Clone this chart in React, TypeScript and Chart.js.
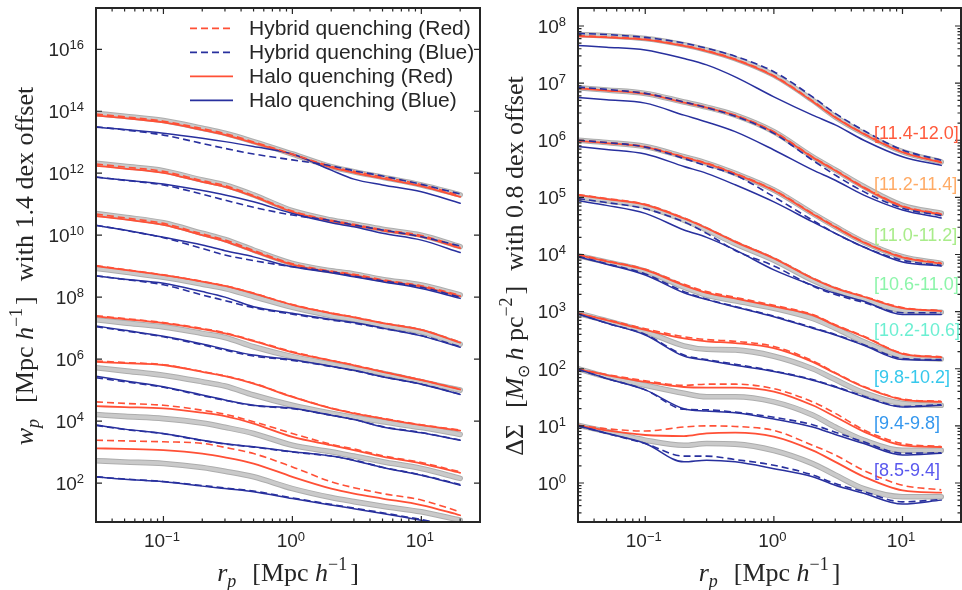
import React, { useEffect, useRef } from 'react';
import { Chart, registerables } from 'chart.js';

Chart.register(...registerables);

const RED = '#ff5036';
const BLUE = '#28309e';
const GREY_EDGE = '#adadad';
const GREY_FILL = '#cacaca';
const INK = '#262626';
const SANS = "'Liberation Sans', Arial, sans-serif";
const SERIF = "'Liberation Serif', 'Times New Roman', serif";

// projected separation r_p [Mpc/h]
const rp = [0.03, 0.05, 0.1, 0.2, 0.3, 0.5, 1, 2, 3, 5, 10, 20];

// ---- Left panel: log10 w_p (with 1.4 dex offsets), 8 stellar-mass bins, top to bottom ----
const wpGrey = [
  [13.93, 13.84, 13.70, 13.45, 13.29, 13.02, 12.62, 12.21, 12.05, 11.87, 11.62, 11.30],
  [12.32, 12.22, 12.08, 11.78, 11.62, 11.30, 10.79, 10.49, 10.36, 10.19, 10.00, 9.63],
  [10.70, 10.58, 10.40, 10.06, 9.86, 9.52, 9.09, 8.85, 8.75, 8.57, 8.39, 8.07],
  [8.93, 8.81, 8.64, 8.42, 8.28, 8.02, 7.67, 7.40, 7.28, 7.10, 6.88, 6.48],
  [7.27, 7.17, 7.04, 6.83, 6.70, 6.40, 6.08, 5.84, 5.70, 5.54, 5.27, 5.00],
  [5.72, 5.62, 5.48, 5.27, 5.13, 4.84, 4.51, 4.25, 4.12, 3.98, 3.79, 3.57],
  [4.21, 4.15, 4.08, 3.94, 3.80, 3.60, 3.22, 3.01, 2.87, 2.69, 2.47, 2.15],
  [2.72, 2.68, 2.63, 2.50, 2.38, 2.20, 1.82, 1.53, 1.40, 1.25, 1.07, 0.80],
];
const wpRedHalo = [
  [13.86, 13.78, 13.64, 13.40, 13.24, 12.98, 12.60, 12.19, 12.02, 11.83, 11.58, 11.24],
  [12.24, 12.15, 12.01, 11.72, 11.56, 11.25, 10.75, 10.45, 10.32, 10.15, 9.95, 9.58],
  [10.62, 10.51, 10.33, 10.00, 9.80, 9.47, 9.05, 8.81, 8.71, 8.53, 8.34, 8.03],
  [9.00, 8.88, 8.71, 8.50, 8.36, 8.12, 7.75, 7.48, 7.35, 7.16, 6.94, 6.53],
  [7.38, 7.29, 7.16, 6.97, 6.83, 6.58, 6.22, 5.95, 5.80, 5.59, 5.32, 5.02],
  [5.91, 5.87, 5.81, 5.59, 5.45, 5.21, 4.78, 4.41, 4.25, 4.08, 3.87, 3.69],
  [4.48, 4.45, 4.41, 4.27, 4.16, 3.92, 3.49, 3.22, 3.06, 2.85, 2.63, 2.33],
  [3.12, 3.10, 3.06, 2.95, 2.83, 2.63, 2.20, 1.82, 1.66, 1.50, 1.29, 0.96],
];
const wpRedHybrid = [
  [13.91, 13.82, 13.68, 13.44, 13.28, 13.01, 12.62, 12.22, 12.06, 11.88, 11.63, 11.28],
  [12.30, 12.20, 12.06, 11.76, 11.60, 11.28, 10.78, 10.48, 10.35, 10.18, 9.99, 9.62],
  [10.68, 10.56, 10.38, 10.04, 9.85, 9.51, 9.08, 8.84, 8.74, 8.56, 8.37, 8.06],
  [9.02, 8.89, 8.72, 8.51, 8.37, 8.13, 7.76, 7.49, 7.36, 7.17, 6.95, 6.55],
  [7.40, 7.31, 7.18, 6.99, 6.85, 6.60, 6.24, 5.96, 5.81, 5.60, 5.33, 5.03],
  [5.94, 5.89, 5.82, 5.60, 5.46, 5.22, 4.79, 4.42, 4.26, 4.09, 3.88, 3.71],
  [4.62, 4.57, 4.51, 4.35, 4.22, 3.98, 3.60, 3.25, 3.10, 2.88, 2.66, 2.36],
  [3.38, 3.36, 3.33, 3.28, 3.15, 2.95, 2.52, 2.04, 1.85, 1.66, 1.45, 1.07],
];
const wpBlueHalo = [
  [13.48, 13.41, 13.29, 13.13, 13.02, 12.86, 12.62, 12.10, 11.81, 11.62, 11.40, 11.03],
  [11.87, 11.78, 11.65, 11.44, 11.30, 11.08, 10.70, 10.40, 10.27, 10.06, 9.84, 9.44],
  [10.31, 10.17, 9.93, 9.68, 9.50, 9.30, 8.98, 8.79, 8.66, 8.50, 8.28, 7.96],
  [8.68, 8.58, 8.45, 8.18, 8.00, 7.69, 7.48, 7.28, 7.18, 7.00, 6.75, 6.38],
  [7.07, 6.93, 6.74, 6.49, 6.32, 6.13, 5.98, 5.77, 5.64, 5.43, 5.19, 4.86],
  [5.45, 5.30, 5.11, 4.84, 4.68, 4.51, 4.41, 4.19, 4.05, 3.81, 3.62, 3.38],
  [3.87, 3.74, 3.60, 3.38, 3.27, 3.17, 3.01, 2.87, 2.73, 2.50, 2.25, 1.93],
  [2.20, 2.12, 2.04, 1.90, 1.82, 1.72, 1.50, 1.29, 1.17, 1.02, 0.80, 0.55],
];
const wpBlueHybrid = [
  [13.50, 13.40, 13.23, 12.96, 12.80, 12.62, 12.43, 12.24, 12.08, 11.91, 11.64, 11.33],
  [11.88, 11.77, 11.62, 11.32, 11.13, 10.90, 10.65, 10.47, 10.33, 10.17, 9.95, 9.65],
  [10.32, 10.16, 9.92, 9.57, 9.36, 9.18, 8.98, 8.82, 8.68, 8.53, 8.32, 8.00],
  [8.69, 8.57, 8.40, 8.07, 7.89, 7.66, 7.45, 7.26, 7.16, 6.99, 6.76, 6.40],
  [7.05, 6.91, 6.72, 6.46, 6.29, 6.10, 5.96, 5.76, 5.63, 5.43, 5.19, 4.87],
  [5.40, 5.27, 5.09, 4.82, 4.67, 4.50, 4.40, 4.19, 4.05, 3.82, 3.63, 3.39],
  [3.86, 3.73, 3.59, 3.37, 3.26, 3.16, 3.00, 2.87, 2.74, 2.51, 2.26, 1.95],
  [2.20, 2.13, 2.05, 1.92, 1.84, 1.74, 1.52, 1.31, 1.19, 1.04, 0.82, 0.57],
];

// ---- Right panel: log10 DeltaSigma (with 0.8 dex offsets) ----
const dsGrey = [
  [7.85, 7.83, 7.78, 7.67, 7.58, 7.43, 7.14, 6.70, 6.41, 6.12, 5.80, 5.62],
  [6.92, 6.88, 6.82, 6.67, 6.58, 6.44, 6.15, 5.71, 5.48, 5.19, 4.86, 4.72],
  [6.00, 5.96, 5.89, 5.71, 5.60, 5.42, 5.13, 4.72, 4.49, 4.22, 3.96, 3.84],
  [5.01, 4.94, 4.84, 4.60, 4.43, 4.19, 3.90, 3.55, 3.38, 3.22, 3.02, 2.99],
  [3.98, 3.87, 3.71, 3.43, 3.29, 3.19, 3.06, 2.88, 2.71, 2.47, 2.22, 2.17],
  [2.97, 2.84, 2.65, 2.40, 2.34, 2.33, 2.22, 2.00, 1.81, 1.58, 1.39, 1.36],
  [2.00, 1.86, 1.71, 1.57, 1.51, 1.51, 1.42, 1.19, 0.98, 0.75, 0.57, 0.57],
  [1.01, 0.90, 0.75, 0.66, 0.69, 0.68, 0.57, 0.34, 0.14, -0.10, -0.24, -0.24],
];
const dsRedHalo = [
  [7.82, 7.80, 7.76, 7.65, 7.56, 7.41, 7.12, 6.68, 6.40, 6.11, 5.79, 5.61],
  [6.91, 6.87, 6.81, 6.66, 6.57, 6.43, 6.14, 5.70, 5.47, 5.17, 4.84, 4.70],
  [5.99, 5.95, 5.88, 5.70, 5.59, 5.41, 5.12, 4.71, 4.48, 4.21, 3.95, 3.84],
  [5.04, 4.97, 4.87, 4.63, 4.46, 4.22, 3.93, 3.58, 3.41, 3.26, 3.06, 3.01],
  [3.99, 3.88, 3.73, 3.46, 3.33, 3.23, 3.09, 2.94, 2.76, 2.56, 2.26, 2.20],
  [2.97, 2.85, 2.68, 2.53, 2.48, 2.45, 2.36, 2.12, 1.92, 1.68, 1.46, 1.42],
  [1.99, 1.89, 1.77, 1.68, 1.67, 1.67, 1.60, 1.36, 1.16, 0.90, 0.66, 0.63],
  [1.01, 0.92, 0.84, 0.82, 0.87, 0.88, 0.81, 0.57, 0.37, 0.11, -0.13, -0.17],
];
const dsRedHybrid = [
  [7.83, 7.81, 7.77, 7.66, 7.57, 7.42, 7.13, 6.69, 6.41, 6.12, 5.80, 5.62],
  [6.92, 6.88, 6.82, 6.67, 6.58, 6.44, 6.15, 5.71, 5.48, 5.18, 4.85, 4.71],
  [6.00, 5.96, 5.89, 5.71, 5.60, 5.42, 5.13, 4.72, 4.49, 4.22, 3.96, 3.85],
  [5.05, 4.98, 4.88, 4.64, 4.47, 4.23, 3.94, 3.59, 3.42, 3.27, 3.07, 3.02],
  [4.00, 3.89, 3.74, 3.48, 3.35, 3.25, 3.11, 2.95, 2.77, 2.57, 2.27, 2.21],
  [2.97, 2.86, 2.70, 2.56, 2.51, 2.48, 2.39, 2.14, 1.93, 1.69, 1.47, 1.43],
  [1.99, 1.90, 1.79, 1.71, 1.73, 1.73, 1.65, 1.42, 1.22, 0.93, 0.69, 0.64],
  [1.01, 0.95, 0.91, 0.98, 1.00, 0.99, 0.92, 0.66, 0.49, 0.22, -0.04, -0.12],
];
const dsBlueHalo = [
  [7.66, 7.63, 7.58, 7.43, 7.32, 7.11, 6.76, 6.44, 6.27, 6.00, 5.71, 5.56],
  [6.75, 6.71, 6.65, 6.44, 6.32, 6.15, 5.83, 5.48, 5.30, 5.04, 4.78, 4.64],
  [5.89, 5.84, 5.76, 5.54, 5.42, 5.22, 4.92, 4.57, 4.37, 4.13, 3.87, 3.80],
  [4.94, 4.86, 4.72, 4.43, 4.30, 4.08, 3.73, 3.46, 3.32, 3.18, 2.95, 2.95],
  [3.96, 3.83, 3.64, 3.33, 3.21, 3.08, 2.91, 2.71, 2.59, 2.41, 2.16, 2.15],
  [2.96, 2.80, 2.59, 2.22, 2.15, 2.06, 1.95, 1.80, 1.68, 1.51, 1.33, 1.36],
  [1.99, 1.83, 1.63, 1.30, 1.26, 1.23, 1.12, 0.98, 0.85, 0.69, 0.49, 0.52],
  [1.00, 0.87, 0.69, 0.37, 0.40, 0.37, 0.25, 0.11, -0.04, -0.18, -0.37, -0.30],
];
const dsBlueHybrid = [
  [7.87, 7.85, 7.80, 7.70, 7.61, 7.47, 7.20, 6.76, 6.47, 6.17, 5.83, 5.65],
  [6.93, 6.89, 6.82, 6.67, 6.57, 6.42, 6.12, 5.65, 5.39, 5.10, 4.81, 4.68],
  [6.00, 5.96, 5.88, 5.68, 5.55, 5.39, 5.01, 4.60, 4.37, 4.13, 3.90, 3.81],
  [4.98, 4.91, 4.80, 4.57, 4.37, 4.07, 3.80, 3.45, 3.30, 3.16, 2.98, 2.98],
  [3.97, 3.84, 3.66, 3.35, 3.22, 3.09, 2.92, 2.72, 2.60, 2.42, 2.18, 2.16],
  [2.96, 2.80, 2.60, 2.24, 2.16, 2.08, 1.96, 1.81, 1.69, 1.52, 1.34, 1.37],
  [1.99, 1.83, 1.63, 1.29, 1.28, 1.24, 1.15, 1.02, 0.89, 0.72, 0.52, 0.53],
  [1.00, 0.87, 0.69, 0.47, 0.47, 0.41, 0.31, 0.14, -0.01, -0.15, -0.33, -0.29],
];

// stellar-mass bin annotations (right panel)
const binLabels = ['[11.4-12.0]', '[11.2-11.4]', '[11.0-11.2]', '[10.6-11.0]', '[10.2-10.6]', '[9.8-10.2]', '[9.4-9.8]', '[8.5-9.4]'];
const binLabelColors = ['#ff5a3c', '#ffab66', '#a9ec8a', '#8cf5aa', '#6cefd2', '#36c8ec', '#3497ee', '#5a58ee'];
const binLabelX = 6.0;
const binLabelYLog = [6.13, 5.23, 4.34, 3.49, 2.68, 1.85, 1.05, 0.22];

// axis ranges and ticks
const xRange = [0.03, 28.5];
const xMajor = [0.1, 1, 10];
const xMajorExp = ['\u22121', '0', '1'];
const wpRangeLog = [0.742, 17.333];
const wpTickExp = [2, 4, 6, 8, 10, 12, 14, 16];
const dsRangeLog = [-0.683, 8.315];
const dsTickExp = [0, 1, 2, 3, 4, 5, 6, 7, 8];

const legendItems = [
  { label: 'Hybrid quenching (Red)', color: RED, dash: [7, 4] },
  { label: 'Hybrid quenching (Blue)', color: BLUE, dash: [7, 4] },
  { label: 'Halo quenching (Red)', color: RED, dash: [] },
  { label: 'Halo quenching (Blue)', color: BLUE, dash: [] },
];

type Seg = { t: string; f: string; dy?: number; gap?: number };

function richWidth(ctx: CanvasRenderingContext2D, segs: Seg[]) {
  let w = 0;
  for (const s of segs) {
    ctx.font = s.f;
    w += (s.gap || 0) + ctx.measureText(s.t).width;
  }
  return w;
}

function drawRich(ctx: CanvasRenderingContext2D, segs: Seg[], x: number, y: number, rot: number, align: 'center' | 'right') {
  ctx.save();
  ctx.translate(x, y);
  ctx.rotate(rot);
  const w = richWidth(ctx, segs);
  let cx = align === 'center' ? -w / 2 : -w;
  ctx.textAlign = 'left';
  ctx.textBaseline = 'alphabetic';
  ctx.fillStyle = INK;
  for (const s of segs) {
    cx += s.gap || 0;
    ctx.font = s.f;
    ctx.fillText(s.t, cx, s.dy || 0);
    cx += ctx.measureText(s.t).width;
  }
  ctx.restore();
}

const T = (size: number, italic = false) => `${italic ? 'italic ' : ''}${size}px ${SERIF}`;

const xTitle: Seg[] = [
  { t: 'r', f: T(26, true) },
  { t: 'p', f: T(18, true), dy: 6 },
  { t: '[Mpc ', f: T(26), gap: 16 },
  { t: 'h', f: T(26, true) },
  { t: '\u22121', f: T(18), dy: -11 },
  { t: ']', f: T(26), gap: 3 },
];
const wpTitle: Seg[] = [
  { t: 'w', f: T(26, true) },
  { t: 'p', f: T(18, true), dy: 6 },
  { t: '[Mpc ', f: T(26), gap: 16 },
  { t: 'h', f: T(26, true) },
  { t: '\u22121', f: T(18), dy: -11 },
  { t: ']', f: T(26), gap: 3 },
  { t: 'with 1.4 dex offset', f: T(26), gap: 15 },
];
const dsTitle: Seg[] = [
  { t: '\u0394\u03a3', f: T(26) },
  { t: '[', f: T(26), gap: 16 },
  { t: 'M', f: T(26, true) },
  { t: '\u2299', f: T(16), dy: 6 },
  { t: 'h', f: T(26, true), gap: 4 },
  { t: ' pc', f: T(26) },
  { t: '\u22122', f: T(18), dy: -11 },
  { t: ']', f: T(26), gap: 3 },
  { t: 'with 0.8 dex offset', f: T(26), gap: 15 },
];

const pts = (logs: number[]) => rp.map((x, i) => ({ x, y: Math.pow(10, logs[i]) }));

function buildDatasets(grey: number[][], redHalo: number[][], blueHalo: number[][], redHyb: number[][], blueHyb: number[][]) {
  const ds: any[] = [];
  const mk = (logs: number[], color: string, width: number, dash: number[] = []) => ({
    data: pts(logs),
    borderColor: color,
    borderWidth: width,
    borderDash: dash,
    pointRadius: 0,
    fill: false,
    cubicInterpolationMode: 'monotone',
    borderCapStyle: dash.length ? 'butt' : 'round',
  });
  // bottom-to-top drawing order
  grey.forEach((g) => ds.push(mk(g, GREY_EDGE, 5.6)));
  grey.forEach((g) => ds.push(mk(g, GREY_FILL, 3.6)));
  redHalo.forEach((g) => ds.push(mk(g, RED, 1.8)));
  blueHalo.forEach((g) => ds.push(mk(g, BLUE, 1.5)));
  redHyb.forEach((g) => ds.push(mk(g, RED, 1.6, [7, 4])));
  blueHyb.forEach((g) => ds.push(mk(g, BLUE, 1.6, [7, 4])));
  // Chart.js paints dataset 0 last (on top), so reverse
  return ds.reverse();
}

type PanelCfg = {
  tickExp: number[];
  minorY: boolean;
  yLabelGap: number;
  yTitle: Seg[];
  yTitleX: number;
  legend: boolean;
  labels: boolean;
};

function makeDecor(cfg: PanelCfg) {
  return {
    id: 'decor',
    afterDraw(chart: any) {
      const ctx: CanvasRenderingContext2D = chart.ctx;
      const a = chart.chartArea;
      const xs = chart.scales.x;
      const ys = chart.scales.y;
      ctx.save();
      ctx.strokeStyle = INK;
      ctx.lineWidth = 1.2;
      const vtick = (v: number, len: number) => {
        const px = xs.getPixelForValue(v);
        if (px < a.left + 1 || px > a.right - 1) return;
        ctx.beginPath();
        ctx.moveTo(px, a.bottom);
        ctx.lineTo(px, a.bottom - len);
        ctx.moveTo(px, a.top);
        ctx.lineTo(px, a.top + len);
        ctx.stroke();
      };
      const htick = (v: number, len: number) => {
        const py = ys.getPixelForValue(v);
        if (py < a.top + 1 || py > a.bottom - 1) return;
        ctx.beginPath();
        ctx.moveTo(a.left, py);
        ctx.lineTo(a.left + len, py);
        ctx.moveTo(a.right, py);
        ctx.lineTo(a.right - len, py);
        ctx.stroke();
      };
      for (const d of [0.01, 0.1, 1, 10]) {
        for (let k = 2; k <= 9; k++) vtick(k * d, 3.5);
      }
      xMajor.forEach((v) => vtick(v, 6));
      cfg.tickExp.forEach((e) => htick(Math.pow(10, e), 6));
      if (cfg.minorY) {
        for (let e = -1; e <= 8; e++) {
          for (let k = 2; k <= 9; k++) htick(k * Math.pow(10, e), 3.5);
        }
      }
      ctx.lineWidth = 2;
      ctx.strokeRect(a.left, a.top, a.right - a.left, a.bottom - a.top);

      // x tick labels
      xMajor.forEach((v, i) => {
        const px = xs.getPixelForValue(v);
        drawRich(ctx, [
          { t: '10', f: `19px ${SANS}` },
          { t: xMajorExp[i], f: `13px ${SANS}`, dy: -6.5 },
        ], px - 1.5, 547, 0, 'center');
      });
      // y tick labels
      cfg.tickExp.forEach((e) => {
        const py = ys.getPixelForValue(Math.pow(10, e));
        drawRich(ctx, [
          { t: '10', f: `19px ${SANS}` },
          { t: String(e), f: `13px ${SANS}`, dy: -7 },
        ], a.left - cfg.yLabelGap, py + 6.8, 0, 'right');
      });
      // axis titles
      drawRich(ctx, xTitle, (a.left + a.right) / 2, 581, 0, 'center');
      drawRich(ctx, cfg.yTitle, cfg.yTitleX, (a.top + a.bottom) / 2 + 1, -Math.PI / 2, 'center');

      if (cfg.legend) {
        legendItems.forEach((it, i) => {
          const y = 28.3 + i * 24;
          ctx.beginPath();
          ctx.setLineDash(it.dash);
          ctx.strokeStyle = it.color;
          ctx.lineWidth = 1.7;
          ctx.moveTo(190, y);
          ctx.lineTo(233, y);
          ctx.stroke();
          ctx.setLineDash([]);
          ctx.fillStyle = INK;
          ctx.font = `21px ${SANS}`;
          ctx.textAlign = 'left';
          ctx.textBaseline = 'middle';
          ctx.fillText(it.label, 249, y + 1);
        });
      }
      if (cfg.labels) {
        ctx.font = `18px ${SANS}`;
        ctx.textAlign = 'left';
        ctx.textBaseline = 'middle';
        binLabels.forEach((lab, i) => {
          ctx.fillStyle = binLabelColors[i];
          ctx.fillText(lab, xs.getPixelForValue(binLabelX), ys.getPixelForValue(Math.pow(10, binLabelYLog[i])) + 1);
        });
      }
      ctx.restore();
    },
  };
}

function makeChart(canvas: HTMLCanvasElement, datasets: any[], yLog: number[], pad: { left: number; right: number }, cfg: PanelCfg) {
  return new Chart(canvas, {
    type: 'line',
    data: { datasets },
    options: {
      animation: false,
      responsive: false,
      devicePixelRatio: 1,
      events: [],
      layout: { padding: { left: pad.left, right: pad.right, top: 8, bottom: 68 } },
      scales: {
        x: { type: 'logarithmic', min: xRange[0], max: xRange[1], display: false },
        y: { type: 'logarithmic', min: Math.pow(10, yLog[0]), max: Math.pow(10, yLog[1]), display: false },
      },
      plugins: { legend: { display: false }, tooltip: { enabled: false } },
    } as any,
    plugins: [makeDecor(cfg) as any],
  });
}

export default function App() {
  const leftRef = useRef<HTMLCanvasElement>(null);
  const rightRef = useRef<HTMLCanvasElement>(null);

  useEffect(() => {
    const left = makeChart(
      leftRef.current!,
      buildDatasets(wpGrey, wpRedHalo, wpBlueHalo, wpRedHybrid, wpBlueHybrid),
      wpRangeLog,
      { left: 96, right: 1 },
      { tickExp: wpTickExp, minorY: false, yLabelGap: 12, yTitle: wpTitle, yTitleX: 33, legend: true, labels: false }
    );
    const right = makeChart(
      rightRef.current!,
      buildDatasets(dsGrey, dsRedHalo, dsBlueHalo, dsRedHybrid, dsBlueHybrid),
      dsRangeLog,
      { left: 97, right: 1 },
      { tickExp: dsTickExp, minorY: true, yLabelGap: 12, yTitle: dsTitle, yTitleX: 42, legend: false, labels: true }
    );
    return () => {
      left.destroy();
      right.destroy();
    };
  }, []);

  return (
    <div style={{ position: 'fixed', left: 0, top: 0, width: 962, height: 590, background: '#fff', overflow: 'hidden' }}>
      <canvas ref={leftRef} width={481} height={590} style={{ position: 'absolute', left: 0, top: 0, width: 481, height: 590 }} />
      <canvas ref={rightRef} width={481} height={590} style={{ position: 'absolute', left: 481, top: 0, width: 481, height: 590 }} />
    </div>
  );
}
